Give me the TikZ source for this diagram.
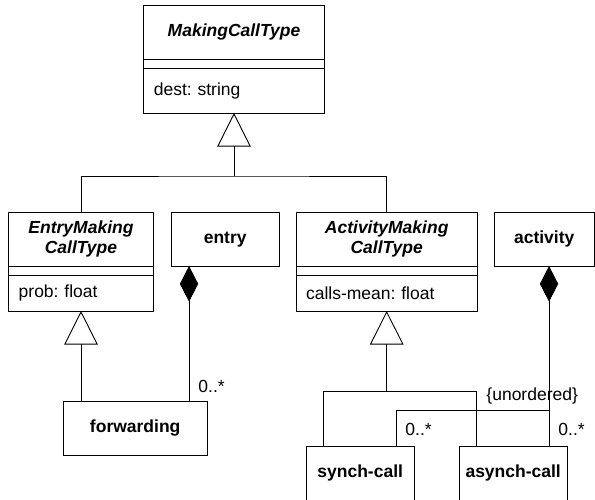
\documentclass[tikz,border=0pt]{standalone}
\usepackage{fontspec}
\setmainfont{Liberation Sans}
\usetikzlibrary{arrows.meta,calc}
\begin{document}
\frenchspacing
\begin{tikzpicture}[x=1pt,y=-1pt, line width=0.9pt,
  txt/.style={font=\fontsize{17.5}{20}\selectfont},
  box/.style={draw, fill=white, inner sep=0pt, outer sep=0pt, txt, font=\fontsize{17.5}{20}\selectfont\bfseries},
  abs/.style={box, font=\fontsize{17.5}{20}\selectfont\bfseries\itshape, align=center},
  emptyc/.style={draw, fill=white, inner sep=0pt, outer sep=0pt, minimum height=9pt},
  attr/.style={draw, fill=white, inner xsep=10pt, inner ysep=0pt, outer sep=0pt, align=left, txt},
  lbl/.style={inner sep=0pt, txt},
  gen/.style={-{Triangle[open, length=33.5pt, width=33.5pt]}},
  comp/.style={-{Diamond[fill=black, length=35.7pt, width=18.3pt]}}]
\useasboundingbox (0,0) rectangle (595,499);
\clip (0,0) rectangle (595,499);

% MakingCallType
\node[abs, minimum width=180.3pt, minimum height=54.3pt] (mct) at (234,32.15) {MakingCallType};
\node[emptyc, minimum width=180.3pt] (mcte) at (234,63.8) {};
\node[attr, text width=160.3pt, minimum height=44.7pt] (mcta) at (234,90.65) {dest: string};

% EntryMakingCallType
\node[abs, minimum width=144.6pt, minimum height=53.7pt] (emt) at (81,239.15) {EntryMaking\\CallType};
\node[emptyc, minimum width=144.6pt] (emte) at (81,270.5) {};
\node[attr, text width=124.6pt, minimum height=36pt] (emta) at (81,293) {prob: float};

% ActivityMakingCallType
\node[abs, minimum width=181.3pt, minimum height=53.7pt] (amt) at (386.7,239.15) {ActivityMaking\\CallType};
\node[emptyc, minimum width=181.3pt] (amte) at (386.7,270.5) {};
\node[attr, text width=161.3pt, minimum height=36pt] (amta) at (386.7,293) {calls-mean: float};

% plain classes
\node[box, minimum width=108.3pt, minimum height=53.7pt] (entry) at (225.2,239.15) {entry};
\node[box, minimum width=99.7pt, minimum height=53.7pt] (act) at (544.2,239.15) {activity};
\node[box, minimum width=144.3pt, minimum height=54pt] (fwd) at (135.2,428) {forwarding};
\node[box, minimum width=108.3pt, minimum height=54pt] (sc) at (360.2,473) {synch-call};
\node[box, minimum width=108.3pt, minimum height=54pt] (ac) at (513.2,473) {asynch-call};

% generalization to MakingCallType
\coordinate (j1) at (234,176);
\draw[gen] (j1) -- (mcta.south);
\draw (emt.north) |- (j1) -| (amt.north);

% generalization to EntryMakingCallType
\draw[gen] (fwd.north -| emta.south) -- (emta.south);

% composition entry - forwarding
\coordinate (e1) at ($(entry.south west)+(18,0)$);
\draw[comp] (fwd.north -| e1) -- (e1);
\node[lbl, anchor=base west] (m1) at (198,392) {0..*};

% generalization to ActivityMakingCallType
\coordinate (j2) at (386.7,391.7);
\coordinate (s1) at ($(sc.north west)+(17.3,0)$);
\coordinate (a1) at ($(ac.north west)+(17.7,0)$);
\draw[gen] (j2) -- (amta.south);
\draw (s1) |- (j2) -| (a1);

% composition activity - calls
\coordinate (a2) at ($(ac.north west)+(90,0)$);
\coordinate (s2) at ($(sc.north west)+(90,0)$);
\coordinate (j3) at ($(a2)+(0,-36)$);
\draw[comp] (a2) -- (a2 |- act.south);
\draw (s2) |- (j3);
\node[lbl, anchor=base west] (un) at (486,400) {\{unordered\}};
\node[lbl, anchor=base west] (m2) at (405,435) {0..*};
\node[lbl, anchor=base west] (m3) at (558,435) {0..*};
\end{tikzpicture}
\end{document}
